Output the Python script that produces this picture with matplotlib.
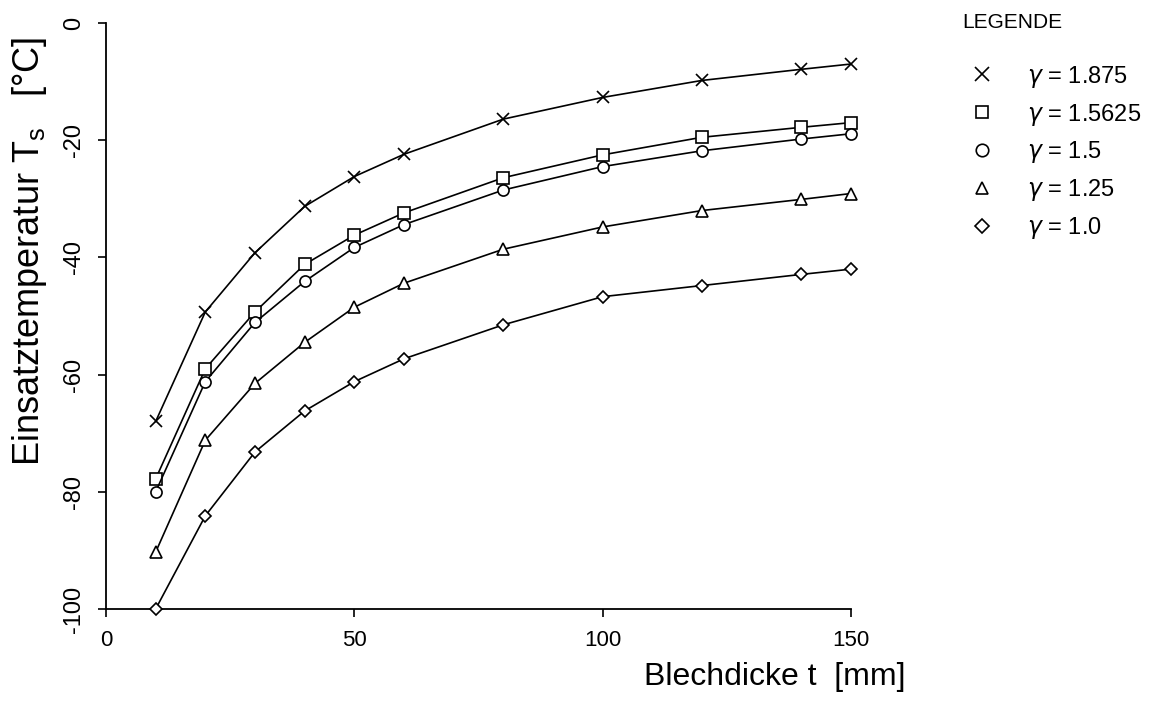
import matplotlib
matplotlib.use('Agg')
import matplotlib.pyplot as plt
from matplotlib.lines import Line2D

plt.rcParams['font.family'] = ['Liberation Sans', 'DejaVu Sans']

# Blechdicke t [mm]
thickness = [10, 20, 30, 40, 50, 60, 80, 100, 120, 140, 150]

# Einsatztemperatur T_s [°C], one series per gamma
ts_1875 = [-68.0, -49.3, -39.2, -31.3, -26.2, -22.4, -16.4, -12.7, -9.8, -7.9, -7.0]
ts_15625 = [-77.8, -59.0, -49.3, -41.2, -36.2, -32.4, -26.4, -22.5, -19.5, -17.8, -17.0]
ts_15 = [-80.0, -61.2, -51.1, -44.1, -38.3, -34.4, -28.5, -24.5, -21.8, -19.8, -18.9]
ts_125 = [-90.3, -71.2, -61.5, -54.5, -48.5, -44.4, -38.6, -34.8, -32.0, -30.1, -29.1]
ts_10 = [-100.0, -84.1, -73.2, -66.2, -61.2, -57.3, -51.5, -46.7, -44.8, -42.9, -42.0]

labels = ['$\\gamma$ = 1.875', '$\\gamma$ = 1.5625', '$\\gamma$ = 1.5',
          '$\\gamma$ = 1.25', '$\\gamma$ = 1.0']
x_ticks = [0, 50, 100, 150]
y_ticks = [0, -20, -40, -60, -80, -100]

series = [ts_1875, ts_15625, ts_15, ts_125, ts_10]
markers = ['x', 's', 'o', '^', 'D']
sizes = [9, 8, 8, 8, 6]

fig = plt.figure(figsize=(11.66, 7.08), dpi=100)
ax = fig.add_axes([0.0909, 0.1398, 0.6389, 0.8277])

for ys, m, ms in zip(series, markers, sizes):
    ax.plot(thickness, ys, color='black', lw=1.2, marker=m, ms=ms,
            mfc='white', mec='black', mew=1.2, clip_on=False, zorder=3)

ax.set_xlim(0, 150)
ax.set_ylim(-100, 0)
for s in ['top', 'right']:
    ax.spines[s].set_visible(False)
for s in ['left', 'bottom']:
    ax.spines[s].set_linewidth(1.3)

ax.set_xticks(x_ticks)
ax.set_xticklabels([str(v) for v in x_ticks], fontsize=16)
ax.set_yticks(y_ticks)
ax.set_yticklabels([str(v) for v in y_ticks], fontsize=17,
                   rotation=90, va='center')
ax.tick_params(axis='both', direction='out', length=6, width=1.2, pad=9)

ax.set_xlabel('Blechdicke t  [mm]', fontsize=23, loc='right')
ax.xaxis.set_label_coords(1.073, -0.09)
ax.set_ylabel('Einsatztemperatur T$_\\mathregular{s}$   [\u00b0C]', fontsize=26)
ax.yaxis.set_label_coords(-0.077, 0.61)

# legend title sits higher than the entries, so keep it as separate text
fig.text(0.825, 0.968, 'LEGENDE', fontsize=15, ha='left', va='center')
handles = [Line2D([], [], linestyle='none', marker=m, ms=ms + 1, mfc='white',
                  mec='black', mew=1.2, color='black')
           for m, ms in zip(markers, sizes)]
leg = fig.legend(handles, labels, loc='upper left',
                 bbox_to_anchor=(0.812, 0.94), frameon=False, fontsize=17,
                 labelspacing=0.5, handletextpad=1.3, handlelength=1.2)

fig.savefig('out.png', dpi=100)
